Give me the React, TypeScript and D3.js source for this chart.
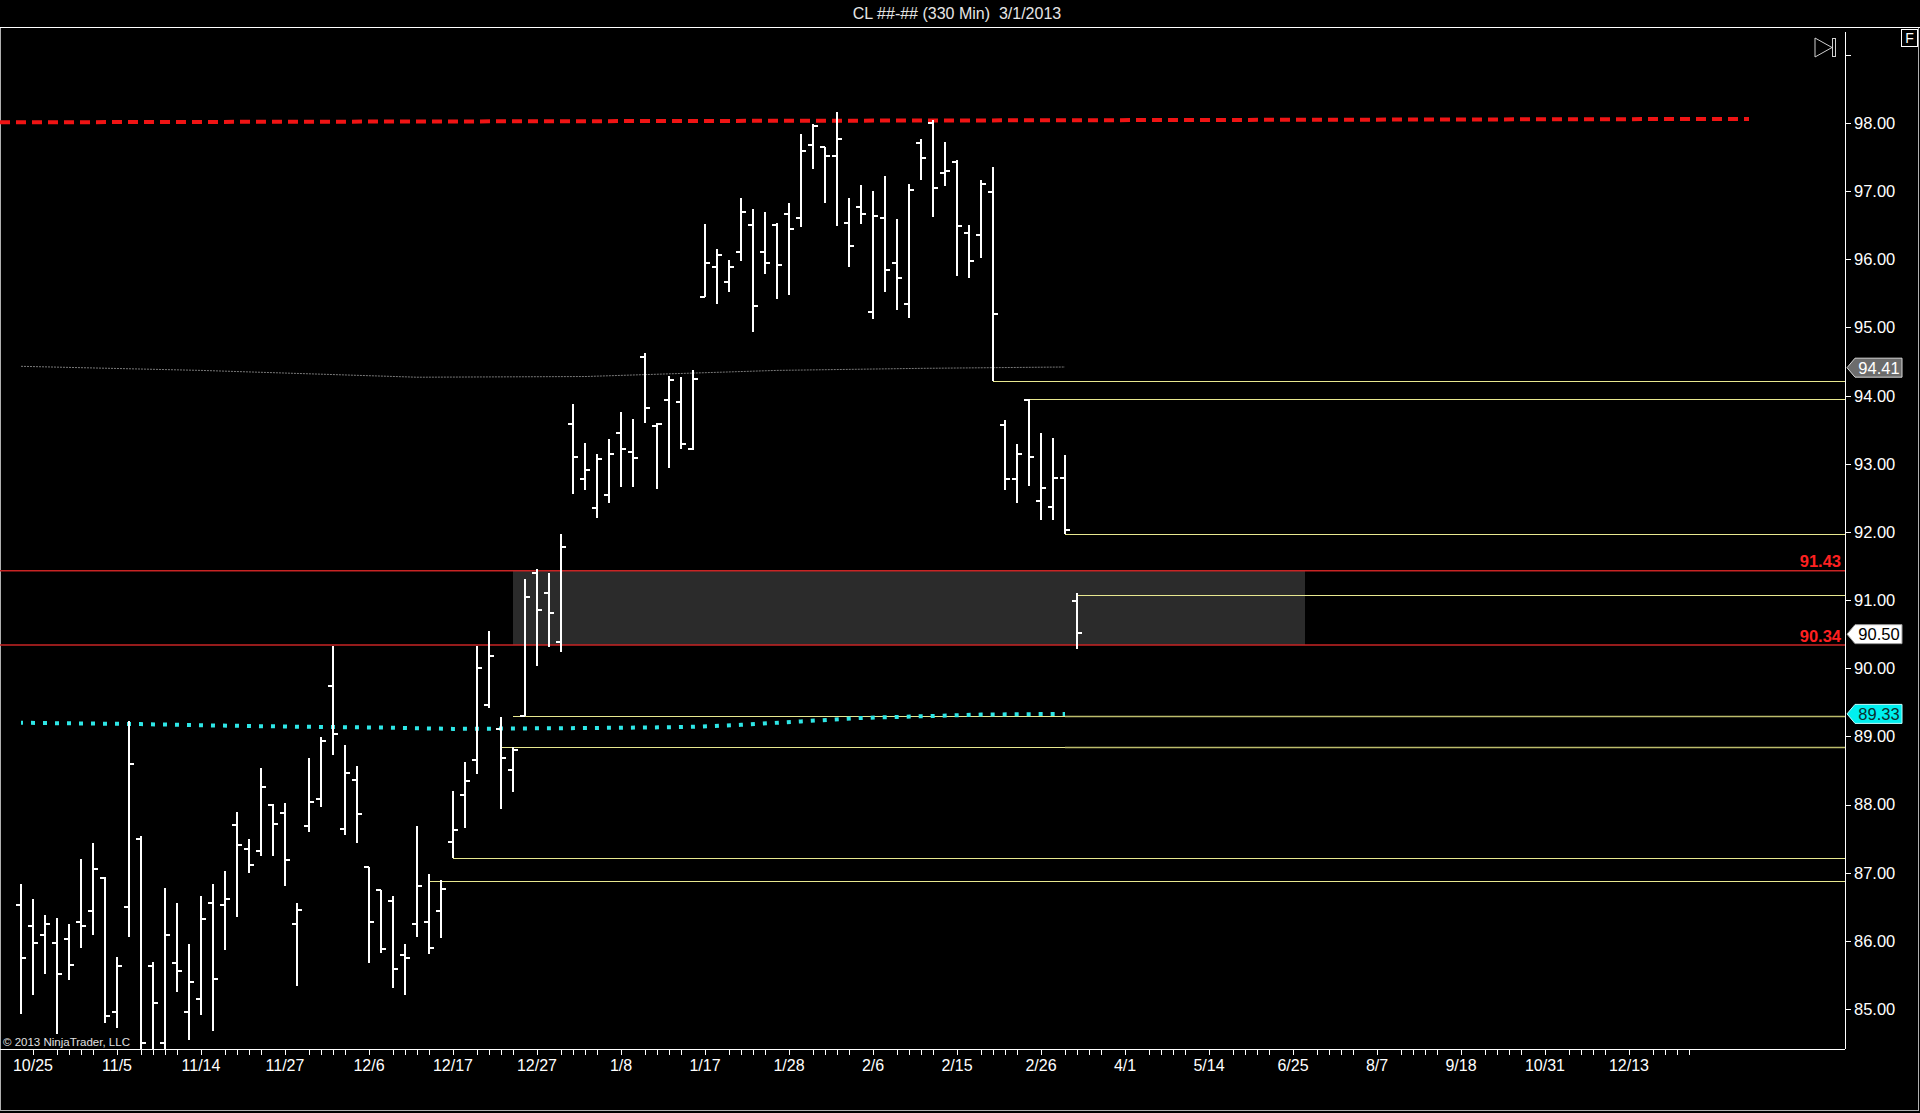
import * as React from "react";
import * as d3 from "d3";

const TITLE = "CL ##-## (330 Min)  3/1/2013";
const COPYRIGHT = "© 2013 NinjaTrader, LLC";

// 330 minute bars, oldest first
const opens = [
  86.52, 86.22, 86.08, 85.97, 86.03, 86.27, 86.44, 86.92, 84.96, 86.5,
  87.5, 85.63, 84.5, 85.67, 84.96, 85.15, 86.56, 86.52, 87.7, 87.35,
  87.32, 87.99, 87.88, 86.25, 87.68, 88.08, 89.74, 87.64, 88.36, 87.08,
  86.74, 86.58, 85.79, 86.24, 86.27, 86.44, 87.45, 88.14, 88.65, 89.46,
  89.11, 88.5, 89.3, 91.4, 91.1, 90.39, 93.58, 92.78, 92.35, 92.54,
  93.45, 93.18, 94.56, 93.56, 93.94, 93.91, 93.22, 95.45, 95.89, 95.67,
  96.1, 96.51, 96.11, 96.51, 96.67, 96.61, 97.67, 97.65, 97.52, 96.53,
  96.77, 95.22, 96.61, 95.95, 95.35, 97.7, 98.0, 97.27, 97.43, 96.38,
  96.36, 96.99, 93.57, 92.77, 93.93, 92.46, 92.36, 92.79, 90.99,
];
const highs = [
  86.83, 86.61, 86.38, 86.34, 86.25, 87.2, 87.43, 86.93, 85.76, 89.22,
  87.54, 85.69, 86.77, 86.55, 85.95, 86.66, 86.83, 87.02, 87.89, 87.5,
  88.53, 88.01, 88.02, 86.55, 88.69, 88.99, 90.33, 88.88, 88.57, 87.09,
  86.74, 86.66, 85.95, 87.68, 86.98, 86.89, 88.2, 88.63, 90.33, 90.55,
  89.28, 88.84, 91.31, 91.45, 91.39, 91.97, 93.87, 93.31, 93.15, 93.36,
  93.76, 93.65, 94.62, 93.6, 94.29, 94.27, 94.38, 96.52, 96.15, 95.99,
  96.9, 96.74, 96.69, 96.54, 96.83, 97.84, 97.99, 97.65, 98.16, 96.9,
  97.09, 97.0, 97.22, 96.59, 97.1, 97.76, 98.05, 97.72, 97.45, 96.5,
  97.17, 97.35, 93.64, 93.29, 93.95, 93.45, 93.38, 93.13, 91.11,
];
const lows = [
  84.93, 85.21, 85.52, 84.64, 85.43, 85.9, 86.08, 84.79, 84.72, 86.06,
  84.2, 84.2, 84.2, 85.25, 84.55, 84.91, 84.67, 85.86, 86.35, 87.0,
  87.25, 87.25, 86.81, 85.34, 87.6, 87.97, 88.73, 87.56, 87.44, 85.67,
  85.82, 85.31, 85.2, 86.05, 85.8, 86.04, 87.21, 87.65, 88.45, 89.42,
  87.93, 88.19, 89.3, 90.04, 90.31, 90.24, 92.56, 92.61, 92.21, 92.42,
  92.66, 92.66, 93.6, 92.63, 92.94, 93.21, 93.2, 95.44, 95.35, 95.52,
  95.97, 94.94, 95.79, 95.42, 95.47, 96.48, 97.32, 96.83, 96.49, 95.88,
  96.52, 95.13, 95.52, 95.26, 95.14, 97.17, 96.62, 97.07, 95.76, 95.73,
  96.02, 94.21, 92.61, 92.43, 92.68, 92.17, 92.17, 91.97, 90.28,
];
const closes = [
  85.75, 85.97, 86.24, 85.51, 85.65, 86.22, 87.06, 84.9, 85.63, 88.6,
  84.5, 85.09, 86.09, 85.56, 85.39, 86.32, 85.44, 86.62, 87.41, 87.11,
  88.26, 87.71, 87.18, 86.45, 88.03, 88.93, 89.04, 88.47, 87.86, 86.27,
  85.88, 85.59, 85.75, 86.8, 85.89, 86.76, 87.62, 88.35, 90.0, 90.18,
  88.68, 88.8, 91.05, 90.86, 90.81, 91.78, 93.1, 92.91, 93.07, 93.14,
  93.21, 93.09, 93.82, 93.59, 94.23, 93.29, 94.24, 95.95, 96.06, 95.89,
  96.7, 95.31, 95.95, 95.91, 96.45, 97.59, 97.95, 97.52, 97.77, 96.19,
  96.67, 96.64, 95.85, 95.73, 97.02, 97.49, 97.04, 97.3, 96.49, 95.97,
  97.11, 95.2, 92.78, 93.14, 93.1, 92.64, 92.79, 92.03, 90.51,
];

const dateLabels = [
  "10/25", "11/5", "11/14", "11/27", "12/6", "12/17", "12/27", "1/8", "1/17", "1/28",
  "2/6", "2/15", "2/26", "4/1", "5/14", "6/25", "8/7", "9/18", "10/31", "12/13",
];
const priceTicks = [85, 86, 87, 88, 89, 90, 91, 92, 93, 94, 95, 96, 97, 98, 99];
const priceLabelMax = 98;

// resistance (red dashed), start / end price and last bar slot
const resistancePrices = [98.01, 98.06];
const resistanceEndBar = 144;

// zone between the two red levels
const zoneLevels = [91.43, 90.34];
const zoneBars = [41, 107];

// yellow rays: price, first bar, muted on the right
const rayPrices = [94.21, 93.95, 91.97, 91.08, 89.3, 88.84, 87.21, 86.88];
const rayStartBars = [81, 84, 87, 88, 41, 40, 36, 34];
const rayMuted = [false, false, false, false, true, true, false, false];
const rayFadeBar = 87;

// moving averages, [bar, price] knots
const cyanAvg: [number, number][] = [
  [0, 89.2], [10, 89.18], [16, 89.16], [24, 89.14], [30, 89.13], [36, 89.11],
  [45, 89.12], [52, 89.13], [56, 89.14], [60, 89.17], [65, 89.22], [70, 89.27],
  [76, 89.3], [80, 89.32], [87, 89.33],
];
const greyAvg: [number, number][] = [
  [0, 94.43], [15, 94.37], [33, 94.27], [47, 94.28], [63, 94.37], [75, 94.4], [87, 94.42],
];

const lastClose = 90.5;
const cyanLast = 89.33;
const greyLast = 94.41;

const W = 1920;
const H = 1113;
const plot = { left: 0, right: 1845, top: 27, bottom: 1049 };
const FONT = "'Liberation Sans', Arial, sans-serif";

function PriceTag({ y, text, fill, stroke, color }: { y: number; text: string; fill: string; stroke: string; color: string }) {
  const x0 = plot.right + 2;
  const pts = [
    [x0, y], [x0 + 8, y - 9.5], [x0 + 55, y - 9.5], [x0 + 55, y + 9.5], [x0 + 8, y + 9.5],
  ];
  return (
    <g>
      <polygon points={pts.map((p) => p.join(",")).join(" ")} fill={fill} stroke={stroke} strokeWidth={1} />
      <text x={x0 + 32} y={y} dy="0.36em" textAnchor="middle" fill={color} fontSize={16.5} fontFamily={FONT}>
        {text}
      </text>
    </g>
  );
}

export default function App() {
  const yScale = d3.scaleLinear().domain([85, 98]).range([1009, 123]);
  const xScale = d3.scaleLinear().domain([0, 1]).range([21, 33]);

  const avgLine = d3
    .line<[number, number]>()
    .x((d) => xScale(d[0]))
    .y((d) => yScale(d[1]));

  const labelBars = dateLabels.map((_, i) => 1 + i * 7);
  const minorBars = labelBars.flatMap((b) => [b + 2, b + 3, b + 4, b + 5]);

  return (
    <div style={{ position: "absolute", left: 0, top: 0, width: W, height: H, background: "#000" }}>
      <svg width={W} height={H} style={{ display: "block" }}>
        <defs>
          <clipPath id="plotClip">
            <rect x={plot.left} y={plot.top + 1} width={plot.right - plot.left} height={plot.bottom - plot.top - 1} />
          </clipPath>
        </defs>
        <rect width={W} height={H} fill="#000" />

        {/* title */}
        <text x={957} y={19} textAnchor="middle" fill="#e6e6e6" fontSize={16} fontFamily={FONT} style={{ whiteSpace: "pre" }}>
          {TITLE}
        </text>
        <rect x={0.5} y={27.5} width={W - 2} height={1083} fill="none" stroke="#b0b0b0" />
        <line x1={0} x2={W} y1={27.5} y2={27.5} stroke="#fff" />

        <g clipPath="url(#plotClip)">
          {/* zone */}
          <rect
            x={xScale(zoneBars[0])}
            width={xScale(zoneBars[1]) - xScale(zoneBars[0])}
            y={yScale(zoneLevels[0])}
            height={yScale(zoneLevels[1]) - yScale(zoneLevels[0])}
            fill="#2b2b2b"
          />
          {zoneLevels.map((p, i) => (
            <line key={i} x1={plot.left} x2={plot.right} y1={yScale(p)} y2={yScale(p)} stroke="#c82424" strokeWidth={1.5} />
          ))}

          {/* resistance */}
          <line
            x1={plot.left}
            x2={xScale(resistanceEndBar)}
            y1={yScale(resistancePrices[0])}
            y2={yScale(resistancePrices[1])}
            stroke="#f01414"
            strokeWidth={4}
            strokeDasharray="10 6"
          />

          {/* grey average */}
          <path d={avgLine(greyAvg) ?? ""} fill="none" stroke="#7a7a7a" strokeWidth={1} strokeDasharray="2 1" />

          {/* yellow rays */}
          {rayPrices.map((p, i) => {
            const y = Math.round(yScale(p)) + 0.5;
            const x0 = xScale(rayStartBars[i]);
            if (!rayMuted[i]) {
              return <line key={i} x1={x0} x2={plot.right} y1={y} y2={y} stroke="#e8e890" strokeWidth={1} />;
            }
            return (
              <g key={i}>
                <line x1={x0} x2={xScale(rayFadeBar)} y1={y} y2={y} stroke="#e8e890" strokeWidth={1} />
                <line x1={xScale(rayFadeBar)} x2={plot.right} y1={y} y2={y} stroke="#bcbc6c" strokeWidth={1.3} />
              </g>
            );
          })}

          {/* cyan average */}
          <path
            d={avgLine(cyanAvg) ?? ""}
            fill="none"
            stroke="#2ee6e6"
            strokeWidth={4}
            strokeDasharray="4 8"
            strokeDashoffset={2}
          />

          {/* OHLC bars */}
          <g stroke="#fff" strokeWidth={2} shapeRendering="crispEdges">
            {opens.map((o, i) => {
              const x = xScale(i);
              const yo = Math.round(yScale(o));
              const yc = Math.round(yScale(closes[i]));
              return (
                <g key={i}>
                  <line x1={x} x2={x} y1={yScale(highs[i])} y2={yScale(lows[i])} />
                  <line x1={x - 5} x2={x} y1={yo} y2={yo} />
                  <line x1={x} x2={x + 5} y1={yc} y2={yc} />
                </g>
              );
            })}
          </g>
        </g>

        {/* zone labels */}
        {zoneLevels.map((p, i) => (
          <text
            key={i}
            x={plot.right - 4}
            y={yScale(p) - 4 + i}
            textAnchor="end"
            fill="#ff2020"
            fontSize={16.5}
            fontWeight="bold"
            fontFamily={FONT}
          >
            {p.toFixed(2)}
          </text>
        ))}

        {/* copyright */}
        <text x={3} y={1046} fill="#e0e0e0" fontSize={11.5} fontFamily={FONT}>
          {COPYRIGHT}
        </text>

        {/* x axis */}
        <g stroke="#fff" strokeWidth={1} shapeRendering="crispEdges">
          <line x1={plot.left} x2={plot.right} y1={plot.bottom + 0.5} y2={plot.bottom + 0.5} />
          {[...labelBars, ...minorBars].map((b, i) => (
            <line key={i} x1={xScale(b) + 0.5} x2={xScale(b) + 0.5} y1={plot.bottom} y2={plot.bottom + 6} />
          ))}
        </g>
        {dateLabels.map((lab, i) => (
          <text key={i} x={xScale(labelBars[i])} y={1071} textAnchor="middle" fill="#fff" fontSize={16} fontFamily={FONT}>
            {lab}
          </text>
        ))}

        {/* y axis */}
        <g stroke="#fff" strokeWidth={1} shapeRendering="crispEdges">
          <line x1={plot.right + 0.5} x2={plot.right + 0.5} y1={32} y2={plot.bottom} />
          {priceTicks.map((p) => (
            <line key={p} x1={plot.right} x2={plot.right + 6} y1={Math.round(yScale(p)) + 0.5} y2={Math.round(yScale(p)) + 0.5} />
          ))}
        </g>
        {priceTicks
          .filter((p) => p <= priceLabelMax)
          .map((p) => (
            <text key={p} x={plot.right + 9} y={yScale(p)} dy="0.36em" fill="#fff" fontSize={16.5} fontFamily={FONT}>
              {p.toFixed(2)}
            </text>
          ))}

        {/* price tags */}
        <PriceTag y={yScale(greyLast)} text={greyLast.toFixed(2)} fill="#6c6c6c" stroke="#d8d8d8" color="#fff" />
        <PriceTag y={yScale(lastClose)} text={lastClose.toFixed(2)} fill="#fff" stroke="#999" color="#000" />
        <PriceTag y={yScale(cyanLast)} text={cyanLast.toFixed(2)} fill="#00f0f0" stroke="#bff" color="#0c2e2e" />

        {/* scroll-to-end icon and F button */}
        <polygon points="1815,38 1832,47.5 1815,57" fill="none" stroke="#d0d0d0" strokeWidth={1} />
        <rect x={1832.5} y={38.5} width={3} height={18} fill="none" stroke="#d0d0d0" strokeWidth={1} />
        <rect x={1901.5} y={29.5} width={16} height={17} fill="#000" stroke="#fff" strokeWidth={1} />
        <text x={1909.5} y={43} textAnchor="middle" fill="#fff" fontSize={14} fontFamily={FONT}>
          F
        </text>
      </svg>
    </div>
  );
}
